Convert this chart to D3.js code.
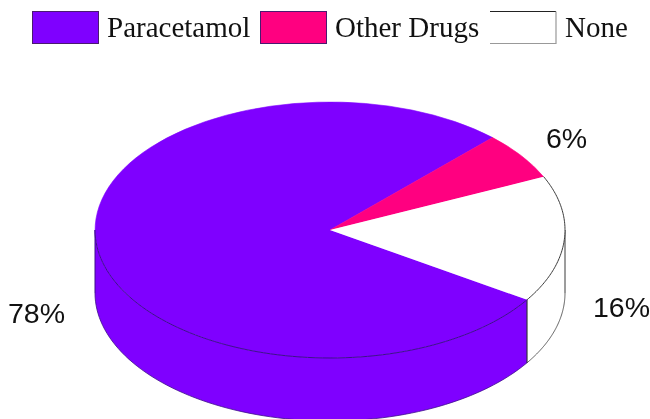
<!DOCTYPE html>
<html><head><meta charset="utf-8">
<script src="https://cdn.jsdelivr.net/npm/d3@7"></script>
<style>html,body{margin:0;background:#fff;overflow:hidden}svg{display:block;filter:blur(0.45px)}</style></head>
<body><svg id="c" width="650" height="419"></svg>
<script>
const categories = ["Paracetamol", "Other Drugs", "None"];
const values = [78, 6, 16];
const labels = ["78%", "6%", "16%"];
const colors = ["#7f00ff", "#ff0080", "#ffffff"];
const labelPos = [[8, 323], [546, 148], [593, 317]];
const legendX = [[32, 107], [260, 335], [490, 565]];

const svg = d3.select("#c");
const cx = 330, cy = 230, rx = 235, ry = 128, depth = 63;
const start = 123 * Math.PI / 180;
const pie = d3.pie().sort(null).value(d => d).startAngle(start).endAngle(start + 2 * Math.PI);
const arcs = pie(values);
const px = a => cx + rx * Math.sin(a);
const py = a => cy - ry * Math.cos(a);
const ink = "#3a3a3a";
const purpleEdge = "#3d0f8a";
const line = d3.line();
const sweep = (a0, a1, dy) => d3.range(81).map(d3.scaleLinear().domain([0, 80]).range([a0, a1])).map(a => [px(a), py(a) + dy]);

// walls: the part of each slice facing the viewer (90deg..270deg)
const lo = Math.PI / 2, hi = 3 * Math.PI / 2;
arcs.forEach((d, i) => {
  [0, -2 * Math.PI].forEach(shift => {
    const a0 = Math.max(d.startAngle + shift, lo), a1 = Math.min(d.endAngle + shift, hi);
    if (a1 <= a0) return;
    const top = sweep(a0, a1, 0), bottom = sweep(a1, a0, depth);
    svg.append("path").attr("d", line(top.concat(bottom)) + "Z").attr("fill", colors[i]);
    svg.append("path").attr("d", line(bottom)).attr("fill", "none")
      .attr("stroke", i === 2 ? ink : purpleEdge).attr("stroke-width", 0.8);
    [a0, a1].forEach(a => {
      svg.append("line").attr("x1", px(a)).attr("x2", px(a)).attr("y1", py(a)).attr("y2", py(a) + depth)
        .attr("stroke", i === 2 ? ink : purpleEdge).attr("stroke-width", 1);
    });
  });
});

// top face
const arc = d3.arc().innerRadius(0).outerRadius(1);
svg.append("g").attr("transform", `translate(${cx},${cy}) scale(${rx},${ry})`)
  .selectAll("path").data(arcs).join("path")
  .attr("d", arc).attr("fill", (d, i) => colors[i])
  .attr("stroke", (d, i) => i === 2 ? "none" : colors[i])
  .attr("stroke-width", 0.6).attr("vector-effect", "non-scaling-stroke");

// rim of the purple slice along its front edge, and the white slice rim
svg.append("path").attr("d", line(sweep(arcs[0].startAngle, hi, 0)))
  .attr("fill", "none").attr("stroke", purpleEdge).attr("stroke-width", 1);
svg.append("path").attr("d", line(sweep(arcs[2].startAngle, arcs[2].endAngle, 0)))
  .attr("fill", "none").attr("stroke", ink).attr("stroke-width", 1);

// data labels
svg.selectAll("text.v").data(labels).join("text").attr("class", "v")
  .attr("x", (d, i) => labelPos[i][0]).attr("y", (d, i) => labelPos[i][1])
  .attr("font-family", "Liberation Sans").attr("font-size", 28.5).attr("fill", "#111").text(d => d);

// legend
categories.forEach((c, i) => {
  const x = legendX[i][0], w = 66, y = 11.5, h = 32;
  if (i < 2) {
    svg.append("rect").attr("x", x + .5).attr("y", y).attr("width", w).attr("height", h)
      .attr("fill", colors[i]).attr("stroke", "#4a1a70").attr("stroke-width", 1);
  } else {
    svg.append("line").attr("x1", x).attr("x2", x + w).attr("y1", y).attr("y2", y).attr("stroke", "#222");
    svg.append("path").attr("d", line([[x + w, y], [x + w, y + h], [x, y + h]]))
      .attr("fill", "none").attr("stroke", "#999").attr("stroke-width", 1.2);
  }
  svg.append("text").attr("x", legendX[i][1]).attr("y", 37)
    .attr("font-family", "Liberation Serif").attr("font-size", 29).attr("fill", "#111").text(c);
});
</script></body></html>
